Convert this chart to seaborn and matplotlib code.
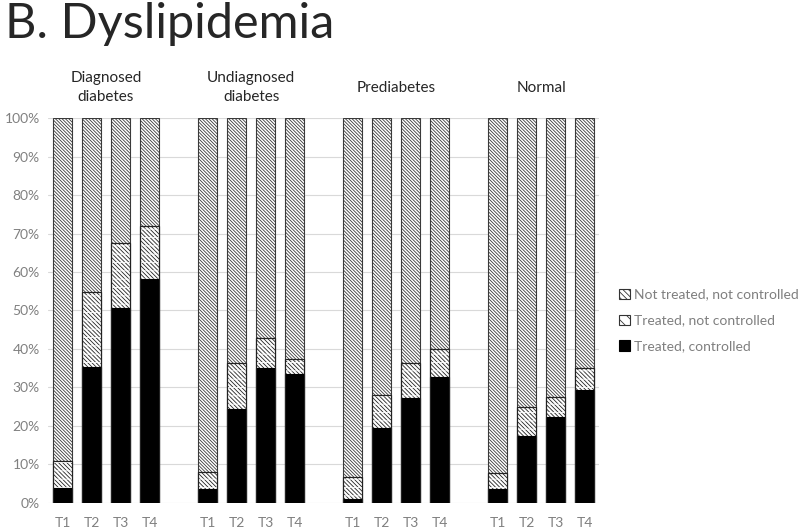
'''
Stacked percentage bars for dyslipidemia status by diabetes group and period.
'''

import matplotlib
matplotlib.use('agg')
import matplotlib.pyplot as plt
from matplotlib.patches import Patch
import pandas as pd
import seaborn as sns

groups = ['Diagnosed\ndiabetes', 'Undiagnosed\ndiabetes', 'Prediabetes', 'Normal']
periods = ['T1', 'T2', 'T3', 'T4']
series = ['Not treated, not controlled', 'Treated, not controlled', 'Treated, controlled']

# percentages, one list per group (T1..T4)
treated_controlled = [
    [3.9, 35.4, 50.7, 58.3],
    [3.5, 24.3, 35.0, 33.4],
    [1.0, 19.3, 27.3, 32.8],
    [3.5, 17.4, 22.2, 29.3],
]
treated_not_controlled = [
    [7.0, 19.3, 16.8, 13.8],
    [4.5, 12.1, 7.9, 4.0],
    [5.8, 8.6, 9.1, 7.1],
    [4.1, 7.6, 5.4, 5.7],
]

GAP = 5  # slots per group (4 bars + one empty)
DENSE = '\\' * 10
MID = '\\' * 8

rows = []
for g, grp in enumerate(groups):
    for t, per in enumerate(periods):
        ctrl = treated_controlled[g][t]
        tnc = treated_not_controlled[g][t]
        rows.append({'pos': g * GAP + t, 'group': grp, 'period': per,
                     'controlled': ctrl, 'treated': ctrl + tnc,
                     'total': 100.0})
df = pd.DataFrame(rows)

sns.set_style('white')
plt.rcParams['font.family'] = ['Lato', 'DejaVu Sans']
plt.rcParams['hatch.linewidth'] = 0.6

fig = plt.figure(figsize=(8, 5.28), dpi=100)
ax = fig.add_axes([0.06, 0.048, 0.689, 0.728])

bar_kw = dict(x='pos', native_scale=True, width=0.66, errorbar=None,
              saturation=1, linewidth=0.8, edgecolor='black', ax=ax)

# draw back to front: full bar, treated (cumulative), stripe overlay, controlled
sns.barplot(data=df, y='total', color='white', **bar_kw)
sns.barplot(data=df, y='treated', color='white', **bar_kw)
sns.barplot(data=df, y='treated', color='white', **bar_kw)
sns.barplot(data=df, y='controlled', color='black', **bar_kw)

for p in ax.containers[0]:
    p.set_edgecolor('#3a3a3a')
    p.set_hatch(DENSE)
for p in ax.containers[1]:
    p.set_edgecolor('#222222')
    p.set_hatch(MID)
# white horizontal stripes to break the middle hatch into short dashes
for p in ax.containers[2]:
    p.set_facecolor('none')
    p.set_edgecolor('white')
    p.set_linewidth(0)
    p.set_hatch('--')
# outline the middle part again
for p in ax.containers[1]:
    ax.add_patch(plt.Rectangle(p.get_xy(), p.get_width(), p.get_height(),
                               fill=False, edgecolor='#222222', lw=0.8,
                               zorder=p.get_zorder() + 0.5))

ax.set_xlim(-0.5, 3 * GAP + 3.5)
ax.set_ylim(0, 100)
ax.set_yticks(range(0, 101, 10))
ax.set_yticklabels([f'{v}%' for v in range(0, 101, 10)])
ax.set_xticks(df['pos'])
ax.set_xticklabels(df['period'])
ax.set_xlabel('')
ax.set_ylabel('')
ax.tick_params(axis='both', length=0, labelsize=10, labelcolor='#808080')
ax.tick_params(axis='x', pad=10)
ax.tick_params(axis='y', pad=6)
ax.set_axisbelow(True)
ax.yaxis.grid(True, color='#d9d9d9', lw=0.8)
sns.despine(ax=ax, left=True, bottom=True)

for g, grp in enumerate(groups):
    ax.text(g * GAP + 1.5, 1.08, grp, transform=ax.get_xaxis_transform(),
            ha='center', va='center', fontsize=11, linespacing=1.45)

fig.text(0.006, 0.997, 'B. Dyslipidemia', fontsize=35, va='top', ha='left')

handles = [
    Patch(facecolor='white', edgecolor='#333333', hatch='\\' * 6, lw=0.8),
    Patch(facecolor='white', edgecolor='#333333', hatch='\\' * 3, lw=0.8),
    Patch(facecolor='black', edgecolor='black', lw=0.8),
]
leg = fig.legend(handles, series, loc='center left', bbox_to_anchor=(0.774, 0.393),
                 frameon=False, fontsize=10, handlelength=0.75, handleheight=0.75,
                 handletextpad=0.3, labelspacing=1.0, labelcolor='#7f7f7f',
                 borderpad=0, borderaxespad=0)

fig.savefig('out.png', dpi=100)
